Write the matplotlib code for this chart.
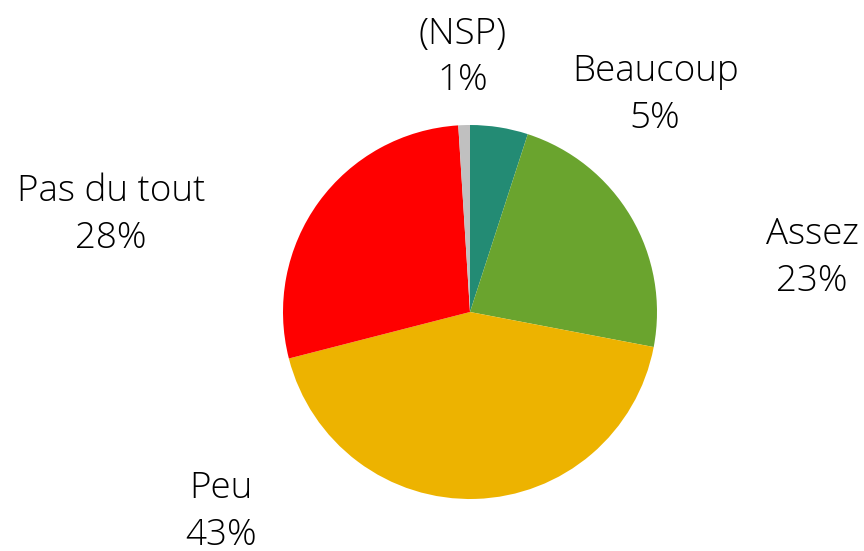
"""Pie chart: share of answers by category."""

import matplotlib

matplotlib.use("Agg")
import matplotlib.pyplot as plt

categories = ["Beaucoup", "Assez", "Peu", "Pas du tout", "(NSP)"]
values = [5, 23, 43, 28, 1]
colors = ["#238B74", "#6AA42E", "#EDB300", "#FF0000", "#C0C0C0"]

# label block centres, in pie-radius units
label_pos = [(0.99, 1.16), (1.83, 0.29), (-1.33, -1.07), (-1.92, 0.52), (-0.04, 1.36)]

plt.rcParams["font.family"] = ["Open Sans", "DejaVu Sans"]

W, H = 864, 551
cx, cy, r = 470, 312, 187
fig = plt.figure(figsize=(W / 100, H / 100), dpi=100)
ax = fig.add_axes([(cx - r) / W, (H - cy - r) / H, 2 * r / W, 2 * r / H])

ax.pie(values, colors=colors, startangle=90, counterclock=False, radius=1)
ax.set_xlim(-1, 1)
ax.set_ylim(-1, 1)
ax.set_aspect("equal")
ax.axis("off")

for cat, val, (x, y) in zip(categories, values, label_pos):
    ax.text(x, y, f"{cat}\n{val}%", ha="center", va="center", fontsize=26.5,
            fontweight="light", linespacing=1.34, color="#000000", clip_on=False)

fig.savefig("out.png", dpi=100)
plt.close(fig)
